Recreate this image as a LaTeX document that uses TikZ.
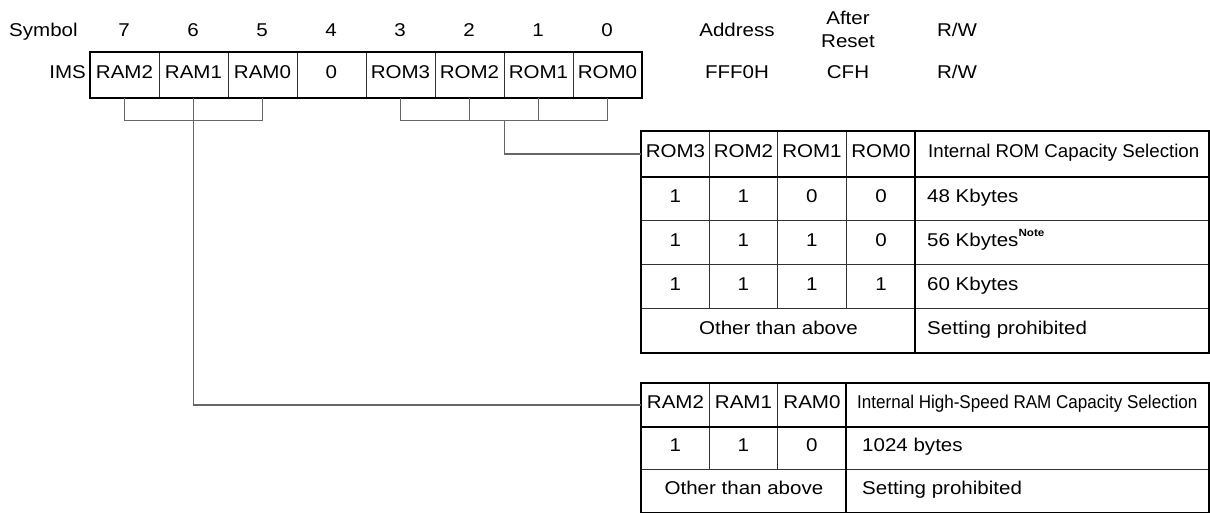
\documentclass[tikz,border=0pt]{standalone}
\usepackage{fontspec}
\setmainfont[FakeStretch=1.11]{Liberation Sans}
\usetikzlibrary{calc}
\begin{document}
\begin{tikzpicture}[x=1pt,y=-1pt,
  font=\fontsize{18.5}{22}\selectfont,
  thinline/.style={draw=black!80, line width=0.9pt},
  thickline/.style={draw=black, line width=2pt},
  conn/.style={draw=black!60, line width=1.2pt},
  cellbox/.style={thinline, anchor=north west, inner sep=0pt, text height=0.716em, text depth=0pt},
  regcell/.style={cellbox, minimum width=69pt, minimum height=45pt},
  txt/.style={inner sep=0pt, text height=0.716em, text depth=0pt},
]
\useasboundingbox (0,0) rectangle (1210,513);

% ---- register ----
\node[txt, anchor=west] (sym) at (9,33) {Symbol};
\node[txt, anchor=east] (ims) at (86,75) {IMS};
\foreach \i/\t [count=\k from 0] in {7/RAM2,6/RAM1,5/RAM0,4/0,3/ROM3,2/ROM2,1/ROM1,0/ROM0} {
  \node[regcell] (r\i) at ({89.5+69*\k},52) {\t};
  \node[txt] (b\i) at ({124+69*\k},33) {\i};
}
\draw[thickline] (r7.north west) rectangle (r0.south east);

% ---- address / reset / rw ----
\node[txt] (addr) at (737,33) {Address};
\node[txt] (aft) at (848,21) {After};
\node[txt] (rst) at (848,44) {Reset};
\node[txt] (rwh) at (957,33) {R/W};
\node[txt] (addrv) at (737,75) {FFF0H};
\node[txt] (rstv) at (848,75) {CFH};
\node[txt] (rwv) at (957,75) {R/W};

% ---- ROM table ----
\node[cellbox, minimum width=68pt, minimum height=45pt] (romh3) at (641,131) {ROM3};
\node[cellbox, minimum width=68pt, minimum height=45pt] (romh2) at (709,131) {ROM2};
\node[cellbox, minimum width=69pt, minimum height=45pt] (romh1) at (777,131) {ROM1};
\node[cellbox, minimum width=69pt, minimum height=45pt] (romh0) at (846,131) {ROM0};
\node[cellbox, minimum width=293pt, minimum height=45pt] (romhd) at (915,131) {};
\node[txt, anchor=west] (romhdt) at ($(romhd.west)+(13,0)$) {\scalebox{0.91}[1]{Internal ROM Capacity Selection}};

\foreach \r/\y/\a/\b/\c/\d/\s in {1/176/1/1/0/0/{48 Kbytes},
    2/220/1/1/1/0/{56 Kbytes\raisebox{0.52em}{\fontsize{10.5}{10.5}\selectfont\bfseries Note}},
    3/264/1/1/1/1/{60 Kbytes}} {
  \node[cellbox, minimum width=68pt, minimum height=44pt] (rom\r a) at (641,\y) {\a};
  \node[cellbox, minimum width=68pt, minimum height=44pt] (rom\r b) at (709,\y) {\b};
  \node[cellbox, minimum width=69pt, minimum height=44pt] (rom\r c) at (777,\y) {\c};
  \node[cellbox, minimum width=69pt, minimum height=44pt] (rom\r d) at (846,\y) {\d};
  \node[cellbox, minimum width=293pt, minimum height=44pt] (rom\r e) at (915,\y) {};
  \node[txt, anchor=west] (rom\r t) at ($(rom\r e.west)+(12,0)$) {\s};
}
\node[cellbox, minimum width=274pt, minimum height=44pt] (romo) at (641,308) {Other than above};
\node[cellbox, minimum width=293pt, minimum height=44pt] (romos) at (915,308) {};
\node[txt, anchor=west] (romost) at ($(romos.west)+(12,0)$) {Setting prohibited};
\draw[thickline] (romh3.north west) rectangle (romos.south east);
\draw[thickline] (romh3.south west) -- (romhd.south east);
\draw[thickline] (romhd.north west) -- (romos.south west);

% ---- RAM table ----
\node[cellbox, minimum width=68pt, minimum height=43pt] (ramh2) at (641,383) {RAM2};
\node[cellbox, minimum width=68pt, minimum height=43pt] (ramh1) at (709,383) {RAM1};
\node[cellbox, minimum width=69pt, minimum height=43pt] (ramh0) at (777,383) {RAM0};
\node[cellbox, minimum width=362pt, minimum height=43pt] (ramhd) at (846,383) {};
\node[txt, anchor=west] (ramhdt) at ($(ramhd.west)+(11,0)$) {\scalebox{0.83}[1]{Internal High-Speed RAM Capacity Selection}};
\node[cellbox, minimum width=68pt, minimum height=43pt] (ram1a) at (641,426) {1};
\node[cellbox, minimum width=68pt, minimum height=43pt] (ram1b) at (709,426) {1};
\node[cellbox, minimum width=69pt, minimum height=43pt] (ram1c) at (777,426) {0};
\node[cellbox, minimum width=362pt, minimum height=43pt] (ram1d) at (846,426) {};
\node[txt, anchor=west] (ram1t) at ($(ram1d.west)+(16,0)$) {1024 bytes};
\node[cellbox, minimum width=205pt, minimum height=43pt] (ramo) at (641,469) {Other than above};
\node[cellbox, minimum width=362pt, minimum height=43pt] (ramos) at (846,469) {};
\node[txt, anchor=west] (ramost) at ($(ramos.west)+(16,0)$) {Setting prohibited};
\draw[thickline] (ramh2.north west) rectangle (ramos.south east);
\draw[thickline] (ramh2.south west) -- (ramhd.south east);
\draw[thickline] (ramhd.north west) -- (ramos.south west);

% ---- connectors ----
\coordinate (rj) at ($(r7.south)+(0,23)$);
\draw[conn] (r7.south) -- (r7.south |- rj) -- (r5.south |- rj) -- (r5.south);
\draw[conn] (r6.south) |- (ramh2.west);
\draw[conn] (r3.south) -- (r3.south |- rj) -- (r0.south |- rj) -- (r0.south);
\draw[conn] (r2.south) -- (r2.south |- rj);
\draw[conn] (r1.south) -- (r1.south |- rj);
\coordinate (romj) at (r2.south east |- rj);
\draw[conn] (romj) |- (romh3.west);
\end{tikzpicture}
\end{document}
